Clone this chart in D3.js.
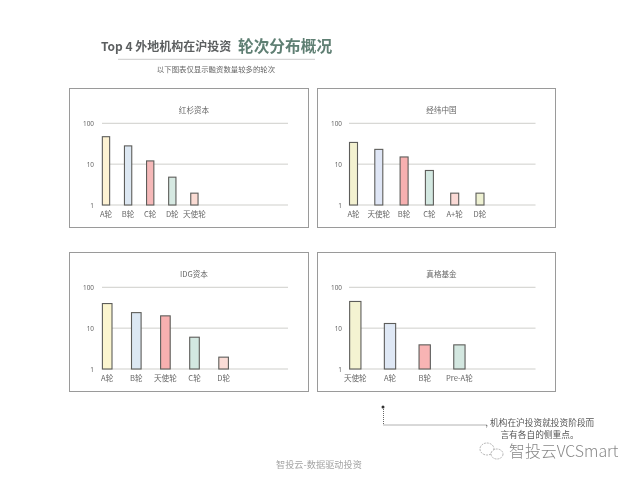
<!DOCTYPE html>
<html><head><meta charset="utf-8">
<script src="https://cdnjs.cloudflare.com/ajax/libs/d3/7.8.5/d3.min.js"></script>
<style>html,body{margin:0;padding:0;background:#fff}svg{display:block}
text{font-family:"Noto Sans CJK SC","Noto Sans",sans-serif}</style></head><body>
<script>
const titles = ["红杉资本", "经纬中国", "IDG资本", "真格基金"];
const rounds1 = ["A轮", "B轮", "C轮", "D轮", "天使轮"];
const values1 = [47, 28, 12, 4.8, 1.95];
const rounds2 = ["A轮", "天使轮", "B轮", "C轮", "A+轮", "D轮"];
const values2 = [34, 23, 15, 7, 1.95, 1.95];
const rounds3 = ["A轮", "B轮", "天使轮", "C轮", "D轮"];
const values3 = [40, 24, 20, 6, 1.95];
const rounds4 = ["天使轮", "A轮", "B轮", "Pre-A轮"];
const values4 = [45, 13, 3.9, 3.9];
const tickLabels = [1, 10, 100];
const headLeft = "Top 4 外地机构在沪投资";
const headRight = "轮次分布概况";
const subHead = "以下图表仅显示融资数量较多的轮次";
const note = ["机构在沪投资就投资阶段而", "言有各自的侧重点。"];
const footer = "智投云-数据驱动投资";
const mark = "智投云VCSmart";

const fills = [
  ["#fdf2d3","#dce7f2","#f5b8b8","#d6e9e2","#fbdcd4"],
  ["#f3f1d0","#dfe6f6","#f7b0b0","#d3e8e1","#fbdad6","#eef1d2"],
  ["#fbf5cf","#dce8f3","#f8b0b0","#d3e8e1","#fadcd6"],
  ["#f4f3d2","#dfe8f5","#f8b4b4","#d3e7e0"]
];
const layout = [
  {box:[69.5,88.5,239,139], top:123.3, bottom:205, lineX:[102,288], first:106, step:22.1, w:7.3, tx:94},
  {box:[317.5,88.5,238,139], top:123.3, bottom:205, lineX:[349,535.5], first:353.5, step:25.3, w:8, tx:342},
  {box:[69.5,252.5,239,139], top:287.3, bottom:369, lineX:[102,288], first:107.2, step:29.1, w:9.6, tx:94},
  {box:[317.5,252.5,238,139], top:287.3, bottom:369, lineX:[349,535.5], first:355.3, step:34.7, w:11.3, tx:342}
];
const rounds = [rounds1, rounds2, rounds3, rounds4];
const values = [values1, values2, values3, values4];

const svg = d3.select("body").append("svg").attr("width",640).attr("height",480);
const defs = svg.append("defs");
defs.append("filter").attr("id","soft").append("feGaussianBlur").attr("stdDeviation",0.35);
const root = svg.append("g").attr("filter","url(#soft)");

// heading
root.append("text").attr("x",101).attr("y",50.5).attr("font-size",12).attr("font-weight",700).attr("fill","#5c5f60").text(headLeft);
root.append("text").attr("x",238).attr("y",52).attr("font-size",15.7).attr("font-weight",700).attr("fill","#5f7f73").text(headRight);
root.append("line").attr("x1",118).attr("x2",315).attr("y1",59.3).attr("y2",59.3).attr("stroke","#bdbdbd").attr("stroke-width",0.8);
root.append("text").attr("x",216).attr("y",72).attr("text-anchor","middle").attr("font-size",7.4).attr("fill","#666").text(subHead);

layout.forEach((L,i)=>{
  const g = root.append("g");
  g.append("rect").attr("x",L.box[0]).attr("y",L.box[1]).attr("width",L.box[2]).attr("height",L.box[3])
    .attr("fill","#fff").attr("stroke","#9a9a9a").attr("stroke-width",1);
  g.append("text").attr("x",L.box[0]+L.box[2]/2+5).attr("y",L.box[1]+24).attr("text-anchor","middle")
    .attr("font-size",7.6).attr("fill","#666").text(titles[i]);

  const y = d3.scaleLog().domain([1,100]).range([L.bottom,L.top]);
  const x = d3.scaleBand().domain(rounds[i])
    .range([L.first-L.step/2, L.first-L.step/2+L.step*rounds[i].length])
    .paddingInner(1-L.w/L.step).paddingOuter((1-L.w/L.step)/2);

  const yAxis = d3.axisLeft(y).tickValues(tickLabels).tickFormat(d3.format("d")).tickSize(0).tickPadding(0);
  const ay = g.append("g").attr("transform",`translate(${L.tx},0)`).call(yAxis);
  ay.select(".domain").remove();
  ay.selectAll("text").attr("font-size",6.4).attr("fill","#666").style("font-family",'"Noto Sans","Noto Sans CJK SC",sans-serif');

  g.selectAll("line.grid").data(tickLabels).join("line").attr("class","grid")
    .attr("x1",L.lineX[0]).attr("x2",L.lineX[1])
    .attr("y1",d=>y(d)).attr("y2",d=>y(d))
    .attr("stroke","#c9c9c5").attr("stroke-width",0.9);

  g.selectAll("rect.bar").data(rounds[i]).join("rect").attr("class","bar")
    .attr("x",d=>x(d)).attr("width",x.bandwidth())
    .attr("y",(d,k)=>y(values[i][k])).attr("height",(d,k)=>L.bottom-y(values[i][k]))
    .attr("fill",(d,k)=>fills[i][k]).attr("stroke","#5d5d5a").attr("stroke-width",1.1);

  const xAxis = d3.axisBottom(x).tickSize(0).tickPadding(0);
  const ax = g.append("g").attr("transform",`translate(0,${L.bottom+6.5})`).call(xAxis);
  ax.select(".domain").remove();
  ax.selectAll("text").attr("font-size",7.6).attr("fill","#666").attr("dy","0.71em");
});

// annotation
root.append("circle").attr("cx",383).attr("cy",407).attr("r",1.5).attr("fill","#333");
root.append("path").attr("d","M383.5,409V425H487").attr("fill","none").attr("stroke","#555").attr("stroke-width",0.9).attr("stroke-dasharray","1 1");
root.append("text").attr("x",485.5).attr("y",426).attr("font-size",8.6).attr("fill","#555").text(",");
note.forEach((t,i)=>root.append("text").attr("x",i?539.5:490).attr("y",426+i*11.5).attr("text-anchor",i?"middle":"start")
  .attr("font-size",8.7).attr("fill","#555").text(t));

// footer + watermark
root.append("text").attr("x",276).attr("y",468).attr("font-size",9.2).attr("fill","#a5a5a5").text(footer);
const ic = root.append("g").attr("fill","none").attr("stroke","#aaa").attr("stroke-width",0.9).attr("stroke-dasharray","2 1");
ic.append("ellipse").attr("cx",487).attr("cy",449).attr("rx",7).attr("ry",6);
ic.append("ellipse").attr("cx",497).attr("cy",454).attr("rx",6).attr("ry",5).attr("fill","#fff");
root.append("text").attr("x",509).attr("y",457).attr("font-size",15.9).attr("fill","#888").attr("font-weight",300).text(mark);
</script></body></html>
